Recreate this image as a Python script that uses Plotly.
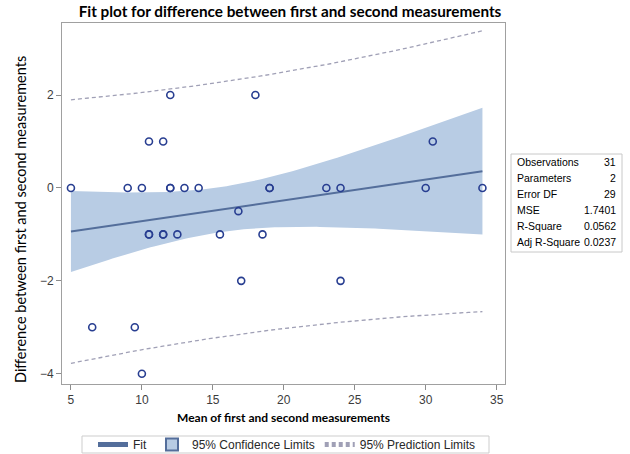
import numpy as np
import plotly.graph_objects as go

# Observations: mean of the two measurements (x) and their difference (y)
mean_meas = [5, 6.5, 9, 9.5, 10, 10, 10.5, 10.5, 10.5, 11.5, 11.5, 11.5, 12, 12, 12, 12.5,
             13, 14, 15.5, 16.8, 17, 18, 18.5, 19, 19, 23, 24, 24, 30, 30.5, 34]
diff_meas = [0, -3, 0, -3, 0, -4, 1, -1, -1, 1, -1, -1, 2, 0, 0, -1,
             0, 0, -1, -0.5, -2, 2, -1, 0, 0, 0, 0, -2, 0, 1, 0]

# Fit statistics shown beside the plot
stat_names = ["Observations", "Parameters", "Error DF", "MSE", "R-Square", "Adj R-Square"]
stat_values = ["31", "2", "29", "1.7401", "0.0562", "0.0237"]
error_df = 29
mse = 1.7401
t_crit = 2.04523  # two-sided 95% t quantile, 29 df

x_ticks = [5, 10, 15, 20, 25, 30, 35]
y_ticks = [-4, -2, 0, 2]

x = np.array(mean_meas, dtype=float)
y = np.array(diff_meas, dtype=float)
n = len(x)
slope, intercept = np.polyfit(x, y, 1)
xbar = x.mean()
sxx = ((x - xbar) ** 2).sum()

xs = np.linspace(x.min(), x.max(), 120)
fit = intercept + slope * xs
se_mean = np.sqrt(mse * (1.0 / n + (xs - xbar) ** 2 / sxx))
se_pred = np.sqrt(mse * (1.0 + 1.0 / n + (xs - xbar) ** 2 / sxx))
ci_lo, ci_hi = fit - t_crit * se_mean, fit + t_crit * se_mean
pi_lo, pi_hi = fit - t_crit * se_pred, fit + t_crit * se_pred

W, H = 630, 454
L, R, T, B = 62, 125, 23, 70
pw, ph = W - L - R, H - T - B


def px(xp):
    return (xp - L) / pw


def py(yp):
    return (H - B - yp) / ph


band_col = "rgb(184,204,228)"
fit_col = "rgb(84,110,155)"
pi_col = "rgb(160,160,182)"
mk_col = "rgb(40,62,145)"

fig = go.Figure()
fig.add_trace(go.Scatter(
    x=np.concatenate([xs, xs[::-1]]), y=np.concatenate([ci_hi, ci_lo[::-1]]),
    fill="toself", fillcolor=band_col, line=dict(width=0, color=band_col),
    mode="lines", showlegend=False, hoverinfo="skip"))
fig.add_trace(go.Scatter(x=xs, y=fit, mode="lines", line=dict(color=fit_col, width=2),
                         name="Fit", legendrank=1))
# legend-only entry: square swatch for the confidence band
fig.add_trace(go.Scatter(x=[None], y=[None], mode="markers", name="95% Confidence Limits", legendrank=2,
                         marker=dict(symbol="square", size=9, color=band_col,
                                     line=dict(color=fit_col, width=1.2))))
fig.add_trace(go.Scatter(x=xs, y=pi_hi, mode="lines", line=dict(color=pi_col, width=1.3, dash="4px,3px"),
                         name="95% Prediction Limits", legendrank=3))
fig.add_trace(go.Scatter(x=xs, y=pi_lo, mode="lines", line=dict(color=pi_col, width=1.3, dash="4px,3px"),
                         showlegend=False))
fig.add_trace(go.Scatter(x=x, y=y, mode="markers", showlegend=False,
                         marker=dict(symbol="circle-open", size=7, color=mk_col, line=dict(width=1.6))))

axis_common = dict(showgrid=False, zeroline=False, showline=True, mirror=True,
                   linecolor="rgb(160,160,160)", linewidth=1, ticks="outside", ticklen=5,
                   tickcolor="rgb(140,140,140)",
                   tickfont=dict(family="Liberation Sans, Arial", size=12, color="rgb(60,60,60)"))

fig.update_xaxes(range=[4.37, 35.59], tickvals=x_ticks, **axis_common)
fig.update_yaxes(range=[-4.22, 3.55], tickvals=y_ticks, **axis_common)

annotations = [
    dict(text="<b>Mean of first and second measurements</b>", x=px(283), y=py(417), xref="paper", yref="paper",
         showarrow=False, font=dict(family="Lato", size=12, color="black"), xanchor="center", yanchor="middle"),
    dict(text="Difference between first and second measurements", x=px(20), y=py(220), xref="paper", yref="paper",
         showarrow=False, textangle=-90, font=dict(family="Lato", size=14.5, color="black"),
         xanchor="center", yanchor="middle"),
]

row_top, row_step = 162, 15.9
for i, (nm, val) in enumerate(zip(stat_names, stat_values)):
    yy = py(row_top + i * row_step)
    annotations.append(dict(text=nm, x=px(515), y=yy, xref="paper", yref="paper", showarrow=False,
                            xanchor="left", yanchor="middle",
                            font=dict(family="Liberation Sans, Arial", size=10.5, color="black")))
    annotations.append(dict(text=val, x=px(618), y=yy, xref="paper", yref="paper", showarrow=False,
                            xanchor="right", yanchor="middle",
                            font=dict(family="Liberation Sans, Arial", size=10.5, color="black")))

shapes = [
    dict(type="rect", xref="paper", yref="paper", x0=px(511), x1=px(622), y0=py(154), y1=py(252),
         line=dict(color="rgb(200,200,200)", width=1), fillcolor="rgba(0,0,0,0)"),
    # legend frame
    dict(type="rect", xref="paper", yref="paper", x0=px(82), x1=px(489), y0=py(436), y1=py(453),
         line=dict(color="rgb(205,205,205)", width=1), fillcolor="rgba(0,0,0,0)"),
]

fig.update_layout(
    width=W, height=H, margin=dict(l=L, r=R, t=T, b=B, autoexpand=False),
    paper_bgcolor="white", plot_bgcolor="white",
    title=dict(text="<b>Fit plot for difference between first and second measurements</b>",
               x=290 / W, xanchor="center", y=1 - 12 / H, yanchor="middle",
               font=dict(family="Lato", size=15.3, color="black")),
    legend=dict(orientation="h", x=px(287), xanchor="center", y=py(444.5), yanchor="middle",
                borderwidth=0, bgcolor="rgba(0,0,0,0)",
                font=dict(family="Liberation Sans, Arial", size=12, color="rgb(40,40,40)"),
                traceorder="normal", itemsizing="constant"),
    annotations=annotations, shapes=shapes, showlegend=True,
)

fig.write_html("out.html")
